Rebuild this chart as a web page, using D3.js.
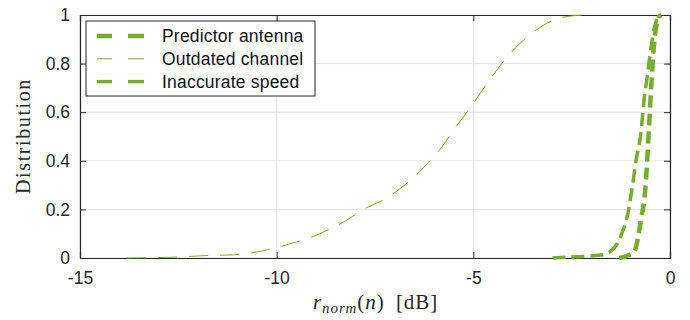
<!DOCTYPE html>
<html>
<head>
<meta charset="utf-8">
<script src="https://cdn.jsdelivr.net/npm/d3@7"></script>
<style>
  body { margin: 0; background: #fff; }
  .axis text { font-family: 'Liberation Sans', Arial, sans-serif; font-size: 17.5px; fill: #262626; }
  .axis path, .axis line { stroke: #262626; }
</style>
</head>
<body>
<div id="chart"></div>
<script>
// series data
const xTicks = [-15, -10, -5, 0];
const yTicks = [0, 0.2, 0.4, 0.6, 0.8, 1];
const seriesNames = ['Predictor antenna', 'Outdated channel', 'Inaccurate speed'];

const predictorX = [-1.29, -1.1, -0.91, -0.81, -0.74, -0.63, -0.57, -0.52, -0.48, -0.44, -0.4, -0.35, -0.29, -0.22];
const predictorY = [0, 0.008, 0.025, 0.086, 0.156, 0.28, 0.43, 0.58, 0.7, 0.8, 0.89, 0.95, 0.99, 1.0];

const outdatedX = [-13.8, -12.5, -11.8, -11.1, -10.6, -10, -9.5, -9, -8.6, -8.3, -7.8, -7.2, -6.6, -6.1, -5.8, -5.5, -5.05, -4.6, -4.1, -3.5, -2.8, -2.2];
const outdatedY = [0, 0.004, 0.01, 0.013, 0.022, 0.043, 0.066, 0.093, 0.123, 0.148, 0.2, 0.247, 0.32, 0.4, 0.457, 0.527, 0.625, 0.73, 0.835, 0.926, 0.988, 1.0];

const speedX = [-2.99, -2.4, -1.75, -1.42, -1.22, -1.09, -0.96, -0.86, -0.74, -0.66, -0.58, -0.48, -0.41, -0.33, -0.27];
const speedY = [0, 0.005, 0.012, 0.041, 0.103, 0.169, 0.292, 0.403, 0.514, 0.65, 0.745, 0.868, 0.938, 0.985, 1.0];

const width = 690, height = 320;
const margin = {top: 15, right: 20, bottom: 62, left: 80};
const w = width - margin.left - margin.right;
const h = height - margin.top - margin.bottom;
const green = '#77AC30';

const svg = d3.select('#chart').append('svg')
  .attr('width', width)
  .attr('height', height);
const g = svg.append('g')
  .attr('transform', 'translate(' + margin.left + ',' + margin.top + ')');

const x = d3.scaleLinear().domain([-15, 0]).range([0, w]);
const y = d3.scaleLinear().domain([0, 1]).range([h, 0]);

// grid
g.append('g').selectAll('line').data(xTicks).enter().append('line')
  .attr('x1', d => x(d)).attr('x2', d => x(d))
  .attr('y1', 0).attr('y2', h)
  .style('stroke', '#e3e3e3');
g.append('g').selectAll('line').data(yTicks).enter().append('line')
  .attr('x1', 0).attr('x2', w)
  .attr('y1', d => y(d)).attr('y2', d => y(d))
  .style('stroke', '#e3e3e3');

// axes (ticks point inward)
g.append('g').attr('class', 'x axis')
  .attr('transform', 'translate(0,' + h + ')')
  .call(d3.axisBottom(x).tickValues(xTicks).tickSize(-6).tickPadding(14).tickFormat(d3.format('d')))
  .call(a => a.selectAll('text').text(d => d < 0 ? '-' + Math.abs(d) : d));
g.append('g').attr('class', 'y axis')
  .call(d3.axisLeft(y).tickValues(yTicks).tickSize(-6).tickPadding(10).tickFormat(d => d === 0 || d === 1 ? d : d3.format('.1f')(d)));
g.append('g').attr('class', 'x axis')
  .call(d3.axisTop(x).tickValues(xTicks).tickSize(-6).tickFormat(''));
g.append('g').attr('class', 'y axis')
  .attr('transform', 'translate(' + w + ',0)')
  .call(d3.axisRight(y).tickValues(yTicks).tickSize(-6).tickFormat(''));
g.selectAll('.axis path').style('stroke-width', 1.2);

// curves
const line = d3.line().x(d => x(d[0])).y(d => y(d[1])).curve(d3.curveMonotoneX);
const series = [
  {name: seriesNames[0], data: d3.zip(predictorX, predictorY), width: 4.5, dash: '12,6'},
  {name: seriesNames[1], data: d3.zip(outdatedX, outdatedY), width: 1, dash: '19,12'},
  {name: seriesNames[2], data: d3.zip(speedX, speedY), width: 3.5, dash: '13,6'}
];
g.selectAll('.curve').data(series).enter().append('path')
  .attr('class', 'curve')
  .attr('d', d => line(d.data))
  .style('fill', 'none')
  .style('stroke', green)
  .style('stroke-width', d => d.width)
  .style('stroke-dasharray', d => d.dash);

// legend
const leg = svg.append('g').attr('transform', 'translate(86,21)');
leg.append('rect')
  .attr('width', 229).attr('height', 75)
  .style('fill', '#fff').style('stroke', '#262626').style('stroke-width', 1);
series.forEach((s, i) => {
  const yy = 15 + i * 22.8;
  [[11, 26], [42, 58]].forEach(seg => {
    leg.append('line')
      .attr('x1', seg[0]).attr('x2', seg[1])
      .attr('y1', yy).attr('y2', yy)
      .style('stroke', green).style('stroke-width', s.width);
  });
  leg.append('text')
    .attr('x', 76).attr('y', yy + 6)
    .style('font-family', "'Liberation Sans', Arial, sans-serif")
    .style('font-size', '17.5px').style('fill', '#111')
    .style('letter-spacing', '0.2px')
    .text(s.name);
});

// axis labels
svg.append('text')
  .attr('transform', 'translate(30,' + 136 + ') rotate(-90)')
  .style('text-anchor', 'middle')
  .style('font-family', "'Liberation Serif', 'DejaVu Serif', serif")
  .style('font-size', '20px').style('fill', '#262626')
  .style('letter-spacing', '1.6px')
  .text('Distribution');

const xl = svg.append('text')
  .attr('x', 313).attr('y', 309)
  .style('font-family', "'Liberation Serif', 'DejaVu Serif', serif")
  .style('font-size', '21px').style('fill', '#262626')
  .style('letter-spacing', '0.9px');
xl.append('tspan').style('font-style', 'italic').text('r');
xl.append('tspan').style('font-style', 'italic').style('font-size', '15px').attr('dy', 4).text('norm');
xl.append('tspan').attr('dy', -4).text('(');
xl.append('tspan').style('font-style', 'italic').text('n');
xl.append('tspan').text(')\u2002[dB]');
</script>
</body>
</html>
